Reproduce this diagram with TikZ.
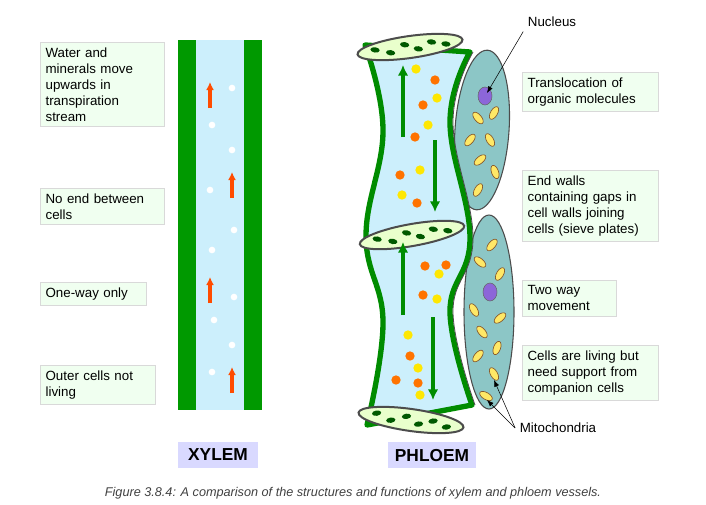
\documentclass[tikz,border=0pt]{standalone}
\usepackage{fontspec}
\setmainfont{Liberation Sans}
\usetikzlibrary{arrows.meta,shapes.geometric}
\begin{document}
\begin{tikzpicture}[x=0.75pt,y=-0.75pt,
  lbl/.style={draw=black!15,fill=green!6,font=\fontsize{10}{12}\selectfont,align=left,anchor=north west,inner sep=4pt,text width=#1},
  tag/.style={fill=blue!15,font=\bfseries\fontsize{13}{15}\selectfont,minimum height=19pt,text depth=0pt},
  redup/.style={-{Latex[length=6pt,width=6pt]},line width=2.5pt,orange!60!red},
  gar/.style={-{Latex[length=8pt,width=8pt]},line width=3.2pt,green!55!black},
  wdot/.style={circle,fill=white,inner sep=0pt,minimum size=5pt},
  ydot/.style={circle,fill=yellow!90!orange,inner sep=0pt,minimum size=7pt},
  odot/.style={circle,fill=orange!90!red,inner sep=0pt,minimum size=7pt},
  plate/.style={draw=black!70,line width=1.5pt,fill=green!25!lime!20!white},
  hole/.style={fill=black!65!green,ellipse,inner sep=0pt,minimum width=7pt,minimum height=4pt},
  cc/.style={draw=black!70,line width=0.8pt,fill=teal!45!white},
  mito/.style={draw=brown!70!black,fill=orange!30!yellow!60,line width=0.5pt}]
\useasboundingbox (0,0) rectangle (706,504);
% xylem
\fill[green!60!black] (178,40) rectangle (262,410);
\fill[cyan!20] (196,40) rectangle (244,410);
\foreach \p in {(232,88),(212,125),(232,150),(210,190),(234,230),(212,250),(234,297),(214,320),(232,345),(212,372)} \node[wdot] at \p {};
\draw[redup] (210,108) -- (210,82);
\draw[redup] (232,198) -- (232,172);
\draw[redup] (210,303) -- (210,277);
\draw[redup] (232,393) -- (232,367);
% left labels
\node[lbl=30mm] (l1) at (40,42) {Water and\\minerals move\\upwards in\\transpiration\\stream};
\node[lbl=30mm] (l2) at (40,188) {No end between\\cells};
\node[lbl=25mm] (l3) at (40,282) {One-way only};
\node[lbl=27.5mm] (l4) at (40,365) {Outer cells not\\living};
% companion cells
\draw[cc,rotate around={-4:(482,130)}] (482,130) ellipse (27 and 80);
\draw[cc] (489,312) ellipse (25 and 97);
\fill[blue!50!violet!60,draw=black!60] (485,96) ellipse (7 and 9);
\fill[blue!50!violet!60,draw=black!60] (490,292) ellipse (7 and 9);
\foreach \x/\y/\r in {478/118/40,494/113/-30,470/140/-40,490/140/30,480/160/-50,495/172/20,478/190/-30,492/245/-40,480/262/50,500/274/-30,474/310/30,500/318/-50,482/332/40,497/348/-20,478/356/-40,494/374/30,486/396/60}
  \draw[mito,rotate around={\r:(\x,\y)}] (\x,\y) ellipse (3.5 and 7);
% phloem body
\draw[fill=cyan!20,draw=green!55!black,line width=4pt,line join=round]
 plot[smooth,tension=0.7] coordinates {(365,45) (383,130) (366,236) (383,322) (367,425)}
 -- plot[smooth,tension=0.7] coordinates {(472,405) (450,312) (470,238) (450,122) (470,52)} -- cycle;
\draw[black!70,line width=0.6pt] plot[smooth,tension=0.7] coordinates {(473,52) (453,122) (473,238) (453,312) (475,405)};
% plates
\foreach \cx/\cy/\rot in {410/47/8,412/235/10,411/420/-8}{
  \draw[plate,rotate around={\rot:(\cx,\cy)}] (\cx,\cy) ellipse (53 and 11);
  \begin{scope}[rotate around={\rot:(\cx,\cy)}]
  \foreach \dx/\dy in {-35/-2,-20/3,-5/-3,8/3,22/-2,36/2}
    \node[hole,rotate=-\rot] at (\cx+\dx,\cy+\dy) {};
  \end{scope}}
% dots
\foreach \p in {(416,69),(437,98),(428,125),(420,170),(402,195),(439,274),(437,299),(408,335),(418,368),(420,395)} \node[ydot] at \p {};
\foreach \p in {(435,80),(423,105),(415,137),(400,175),(417,203),(425,266),(446,265),(423,295),(410,356),(396,380),(418,383)} \node[odot] at \p {};
\draw[gar] (403,137) -- (403,65);
\draw[gar] (435,140) -- (435,212);
\draw[gar] (403,315) -- (403,242);
\draw[gar] (433,317) -- (433,400);
% right labels
\node[lbl=33mm] (r1) at (522,72) {Translocation of\\organic molecules};
\node[lbl=33mm] (r2) at (522,170) {End walls\\containing gaps in\\cell walls joining\\cells (sieve plates)};
\node[lbl=22mm] (r3) at (522,280) {Two way\\movement};
\node[lbl=33mm] (r4) at (522,345) {Cells are living but\\need support from\\companion cells};
\node[font=\fontsize{10}{12}\selectfont] (nuc) at (552,22) {Nucleus};
\node[font=\fontsize{10}{12}\selectfont] (mit) at (558,428) {Mitochondria};
\coordinate (n1) at (487,93);
\coordinate (m1) at (494,380);
\coordinate (m2) at (487,400);
\draw[-{Latex[length=5pt]},thin] (nuc.south west) -- (n1);
\draw[-{Latex[length=5pt]},thin] (mit.west) -- (m1);
\draw[-{Latex[length=5pt]},thin] (mit.west) -- (m2);
% tags
\node[tag,minimum width=60pt] (xt) at (218,455) {XYLEM};
\node[tag,minimum width=66pt] (pt) at (432,455) {PHLOEM};
\node[font=\itshape\fontsize{9.5}{11}\selectfont,text=black!75] (cap) at (353,493) {Figure 3.8.4: A comparison of the structures and functions of xylem and phloem vessels.};
\end{tikzpicture}
\end{document}
